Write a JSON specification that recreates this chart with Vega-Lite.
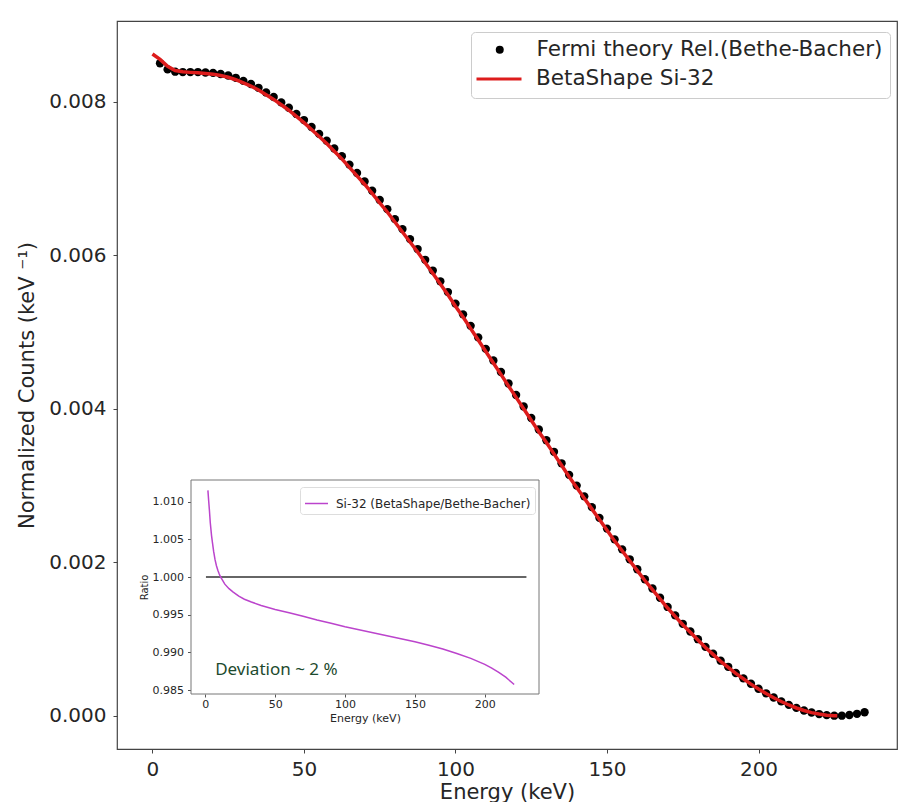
{
  "$schema": "https://vega.github.io/schema/vega-lite/v6.json",
  "width": 780,
  "height": 728,
  "autosize": {"type": "none"},
  "padding": {"left": 117, "top": 21, "right": 10, "bottom": 53},
  "background": "white",
  "config": {
    "font": "DejaVu Sans",
    "view": {"stroke": "#444444", "strokeWidth": 1.2},
    "axis": {"grid": false, "labelColor": "#262626", "titleColor": "#262626", "titleFontWeight": "normal", "tickColor": "#444444", "labelFont": "DejaVu Sans", "titleFont": "DejaVu Sans"},
    "legend": {"labelFont": "DejaVu Sans"}
  },
  "datasets": {
    "fermi": [
      {"E":2.5,"v":0.0085},{"E":5,"v":0.00842},{"E":7.5,"v":0.00839},{"E":10,"v":0.008385},{"E":12.5,"v":0.008385},{"E":15,"v":0.008385},{"E":17.5,"v":0.00838},{"E":20,"v":0.008375},{"E":22.5,"v":0.00836},{"E":25,"v":0.00834},
      {"E":27.5,"v":0.00831},{"E":30,"v":0.00827},{"E":32.5,"v":0.00823},{"E":35,"v":0.00818},{"E":37.5,"v":0.00812},{"E":40,"v":0.00806},{"E":42.5,"v":0.00799},{"E":45,"v":0.00792},{"E":47.5,"v":0.00784},{"E":50,"v":0.00776},
      {"E":52.5,"v":0.00767},{"E":55,"v":0.00758},{"E":57.5,"v":0.00749},{"E":60,"v":0.00739},{"E":62.5,"v":0.00729},{"E":65,"v":0.00718},{"E":67.5,"v":0.00707},{"E":70,"v":0.00696},{"E":72.5,"v":0.00684},{"E":75,"v":0.00672},
      {"E":77.5,"v":0.0066},{"E":80,"v":0.00647},{"E":82.5,"v":0.00634},{"E":85,"v":0.00621},{"E":87.5,"v":0.00608},{"E":90,"v":0.00594},{"E":92.5,"v":0.0058},{"E":95,"v":0.00566},{"E":97.5,"v":0.00552},{"E":100,"v":0.00537},
      {"E":102.5,"v":0.00523},{"E":105,"v":0.00508},{"E":107.5,"v":0.00493},{"E":110,"v":0.00478},{"E":112.5,"v":0.00463},{"E":115,"v":0.00448},{"E":117.5,"v":0.00433},{"E":120,"v":0.00418},{"E":122.5,"v":0.00403},{"E":125,"v":0.00388},
      {"E":127.5,"v":0.00373},{"E":130,"v":0.00359},{"E":132.5,"v":0.00344},{"E":135,"v":0.00329},{"E":137.5,"v":0.00314},{"E":140,"v":0.003},{"E":142.5,"v":0.00286},{"E":145,"v":0.00272},{"E":147.5,"v":0.00258},{"E":150,"v":0.00244},
      {"E":152.5,"v":0.0023},{"E":155,"v":0.00217},{"E":157.5,"v":0.00204},{"E":160,"v":0.00191},{"E":162.5,"v":0.00178},{"E":165,"v":0.00166},{"E":167.5,"v":0.00154},{"E":170,"v":0.00142},{"E":172.5,"v":0.00131},{"E":175,"v":0.0012},
      {"E":177.5,"v":0.0011},{"E":180,"v":0.001},{"E":182.5,"v":0.0009},{"E":185,"v":0.00081},{"E":187.5,"v":0.00072},{"E":190,"v":0.00064},{"E":192.5,"v":0.00056},{"E":195,"v":0.00049},{"E":197.5,"v":0.00042},{"E":200,"v":0.000355},
      {"E":202.5,"v":0.000295},{"E":205,"v":0.00024},{"E":207.5,"v":0.00019},{"E":210,"v":0.000145},{"E":212.5,"v":0.000105},{"E":215,"v":0.000072},{"E":217.5,"v":0.000045},{"E":220,"v":0.000025},{"E":222.5,"v":0.000011},{"E":225,"v":0.000004},
      {"E":227.5,"v":0.000004},{"E":230,"v":0.000012},{"E":232.5,"v":0.000028},{"E":235,"v":0.000048}
    ],
    "betashape": [
      {"E":0,"v":0.00862},{"E":2.5,"v":0.00855},{"E":5,"v":0.008459},{"E":7.5,"v":0.008406},{"E":10,"v":0.008388},{"E":12.5,"v":0.008381},{"E":15,"v":0.008375},{"E":17.5,"v":0.008366},{"E":20,"v":0.008358},{"E":22.5,"v":0.00834},
      {"E":25,"v":0.008317},{"E":27.5,"v":0.008285},{"E":30,"v":0.008244},{"E":32.5,"v":0.008203},{"E":35,"v":0.008152},{"E":37.5,"v":0.008091},{"E":40,"v":0.008029},{"E":42.5,"v":0.007959},{"E":45,"v":0.007888},{"E":47.5,"v":0.007807},
      {"E":50,"v":0.007727},{"E":52.5,"v":0.007636},{"E":55,"v":0.007546},{"E":57.5,"v":0.007455},{"E":60,"v":0.007355},{"E":62.5,"v":0.007255},{"E":65,"v":0.007144},{"E":67.5,"v":0.007034},{"E":70,"v":0.006924},{"E":72.5,"v":0.006804},
      {"E":75,"v":0.006683},{"E":77.5,"v":0.006563},{"E":80,"v":0.006433},{"E":82.5,"v":0.006303},{"E":85,"v":0.006173},{"E":87.5,"v":0.006043},{"E":90,"v":0.005903},{"E":92.5,"v":0.005764},{"E":95,"v":0.005624},{"E":97.5,"v":0.005484},
      {"E":100,"v":0.005335},{"E":102.5,"v":0.005195},{"E":105,"v":0.005045},{"E":107.5,"v":0.004896},{"E":110,"v":0.004747},{"E":112.5,"v":0.004597},{"E":115,"v":0.004448},{"E":117.5,"v":0.004298},{"E":120,"v":0.004149},{"E":122.5,"v":0.004},
      {"E":125,"v":0.003851},{"E":127.5,"v":0.003701},{"E":130,"v":0.003562},{"E":132.5,"v":0.003413},{"E":135,"v":0.003264},{"E":137.5,"v":0.003115},{"E":140,"v":0.002975},{"E":142.5,"v":0.002836},{"E":145,"v":0.002697},{"E":147.5,"v":0.002558},
      {"E":150,"v":0.002419},{"E":152.5,"v":0.00228},{"E":155,"v":0.002151},{"E":157.5,"v":0.002022},{"E":160,"v":0.001893},{"E":162.5,"v":0.001764},{"E":165,"v":0.001645},{"E":167.5,"v":0.001525},{"E":170,"v":0.001406},{"E":172.5,"v":0.001297},
      {"E":175,"v":0.001188},{"E":177.5,"v":0.001089},{"E":180,"v":0.00099},{"E":182.5,"v":0.000891},{"E":185,"v":0.000802},{"E":187.5,"v":0.000712},{"E":190,"v":0.000633},{"E":192.5,"v":0.000554},{"E":195,"v":0.000485},{"E":197.5,"v":0.000415},
      {"E":200,"v":0.000351},{"E":202.5,"v":0.000292},{"E":205,"v":0.000237},{"E":207.5,"v":0.000188},{"E":210,"v":0.000143},{"E":212.5,"v":0.000104},{"E":215,"v":0.000071},{"E":217.5,"v":0.000044},{"E":220,"v":0.000025},{"E":222.5,"v":0.000011},
      {"E":225,"v":0.000004},{"E":226,"v":0.000003}
    ],
    "ratio": [
      {"E":1.9,"r":1.0115},{"E":2.5,"r":1.01},{"E":3,"r":1.0088},{"E":3.6,"r":1.0072},{"E":4.5,"r":1.0055},{"E":5.2,"r":1.0045},{"E":6,"r":1.0034},{"E":7,"r":1.0023},{"E":8,"r":1.0015},{"E":9,"r":1.0009},
      {"E":10,"r":1.0004},{"E":11,"r":1.0},{"E":12,"r":0.9997},{"E":14,"r":0.99905},{"E":17,"r":0.99845},{"E":20,"r":0.998},{"E":24,"r":0.99745},{"E":28,"r":0.99705},{"E":33,"r":0.99668},{"E":40,"r":0.99622},
      {"E":50,"r":0.9957},{"E":60,"r":0.99525},{"E":70,"r":0.9948},{"E":80,"r":0.9943},{"E":90,"r":0.99385},{"E":100,"r":0.9934},{"E":110,"r":0.993},{"E":120,"r":0.9926},{"E":130,"r":0.9922},{"E":140,"r":0.9918},
      {"E":150,"r":0.9914},{"E":160,"r":0.99095},{"E":170,"r":0.99045},{"E":180,"r":0.98985},{"E":190,"r":0.9892},{"E":200,"r":0.9884},{"E":205,"r":0.9879},{"E":210,"r":0.98735},{"E":215,"r":0.9867},{"E":220,"r":0.9859},{"E":221,"r":0.98573}
    ],
    "unity": [{"E":0.5,"r":1.0},{"E":229.8,"r":1.0}]
  },
  "layer": [
    {
      "layer": [
        {
          "data": {"name": "fermi"},
          "mark": {"type": "point", "filled": true, "size": 70, "opacity": 1},
          "encoding": {
            "x": {"field": "E", "type": "quantitative", "title": "Energy (keV)", "scale": {"domain": [-11.7, 245.7], "nice": false, "zero": false}, "axis": {"values": [0, 50, 100, 150, 200], "format": "d", "labelFontSize": 20, "titleFontSize": 21, "tickSize": 4, "labelPadding": 6, "titlePadding": 2, "domain": false}},
            "y": {"field": "v", "type": "quantitative", "title": "Normalized Counts (keV ⁻¹)", "scale": {"domain": [-0.00043, 0.00905], "nice": false, "zero": false}, "axis": {"values": [0, 0.002, 0.004, 0.006, 0.008], "format": ".3f", "labelFontSize": 20, "titleFontSize": 21, "tickSize": 4, "labelPadding": 7, "titlePadding": 11, "domain": false}},
            "fill": {
              "datum": "Fermi theory Rel.(Bethe-Bacher)",
              "scale": {"domain": ["Fermi theory Rel.(Bethe-Bacher)", " "], "range": ["#000000", "transparent"]},
              "legend": {
                "orient": "none", "legendX": 354, "legendY": 11, "title": null,
                "labelFontSize": 21.5, "labelColor": "#262626", "labelLimit": 600,
                "symbolType": "circle", "symbolSize": 64, "symbolOffset": 11, "symbolStrokeWidth": 0,
                "strokeColor": "#cccccc", "cornerRadius": 4,
                "padding": 7, "rowPadding": 7, "labelOffset": 26
              }
            }
          }
        },
        {
          "data": {"name": "betashape"},
          "mark": {"type": "line", "strokeWidth": 3.5},
          "encoding": {
            "x": {"field": "E", "type": "quantitative", "title": "Energy (keV)"},
            "y": {"field": "v", "type": "quantitative", "title": "Normalized Counts (keV ⁻¹)"},
            "color": {
              "datum": "BetaShape Si-32",
              "scale": {"range": ["#dd1c1c"]},
              "legend": {
                "orient": "none", "legendX": 358, "legendY": 34, "title": null,
                "labelFontSize": 21.5, "labelColor": "#262626", "labelLimit": 600,
                "symbolType": "stroke", "symbolSize": 2025, "symbolStrokeWidth": 3,
                "padding": 0, "labelOffset": 13
              }
            }
          }
        }
      ]
    },
    {
      "layer": [
        {
          "data": {"values": [{}]},
          "mark": {"type": "rect", "fill": "white", "stroke": "#777777", "strokeWidth": 1},
          "encoding": {
            "x": {"datum": -10.2, "type": "quantitative", "scale": {"domain": [-10.2, 238.8], "range": [74, 422], "nice": false, "zero": false}, "axis": {"title": "Energy (keV)", "orient": "bottom", "offset": -55, "values": [0, 50, 100, 150, 200], "format": "d", "labelFontSize": 11, "titleFontSize": 11, "tickSize": 3, "labelPadding": 1, "titlePadding": 3, "domain": false, "tickColor": "#555555"}},
            "x2": {"datum": 238.8},
            "y": {"datum": 0.98447, "type": "quantitative", "scale": {"domain": [0.98447, 1.01288], "range": [673, 459], "nice": false, "zero": false}, "axis": {"title": "Ratio", "orient": "left", "offset": -74, "values": [0.985, 0.99, 0.995, 1.0, 1.005, 1.01], "format": ".3f", "labelFontSize": 11, "titleFontSize": 10, "tickSize": 3.5, "labelPadding": 4, "titlePadding": 3, "domain": false, "tickColor": "#555555"}},
            "y2": {"datum": 1.01288}
          }
        },
        {
          "data": {"name": "unity"},
          "mark": {"type": "line", "color": "#333333", "strokeWidth": 1.5},
          "encoding": {
            "x": {"field": "E", "type": "quantitative", "title": "Energy (keV)"},
            "y": {"field": "r", "type": "quantitative", "title": "Ratio"}
          }
        },
        {
          "data": {"name": "ratio"},
          "mark": {"type": "line", "strokeWidth": 1.5},
          "encoding": {
            "x": {"field": "E", "type": "quantitative", "title": "Energy (keV)"},
            "y": {"field": "r", "type": "quantitative", "title": "Ratio"},
            "stroke": {
              "datum": "Si-32 (BetaShape/Bethe-Bacher)",
              "scale": {"range": ["#bb44cc"]},
              "legend": {
                "orient": "none", "legendX": 183, "legendY": 466, "title": null,
                "labelFontSize": 12, "labelColor": "#262626", "labelLimit": 400,
                "symbolType": "stroke", "symbolSize": 529, "symbolStrokeWidth": 1.5,
                "strokeColor": "#dddddd", "fillColor": "white", "cornerRadius": 3,
                "padding": 4, "labelOffset": 7
              }
            }
          }
        },
        {
          "data": {"values": [{}]},
          "mark": {"type": "text", "align": "left", "baseline": "middle", "font": "Noto Sans", "fontSize": 17, "color": "#1d4a2e"},
          "encoding": {
            "x": {"datum": 7.1, "type": "quantitative"},
            "y": {"datum": 0.98763, "type": "quantitative"},
            "text": {"value": "Deviation ~ 2 %"}
          }
        }
      ]
    }
  ],
  "resolve": {"scale": {"x": "independent", "y": "independent"}}
}
